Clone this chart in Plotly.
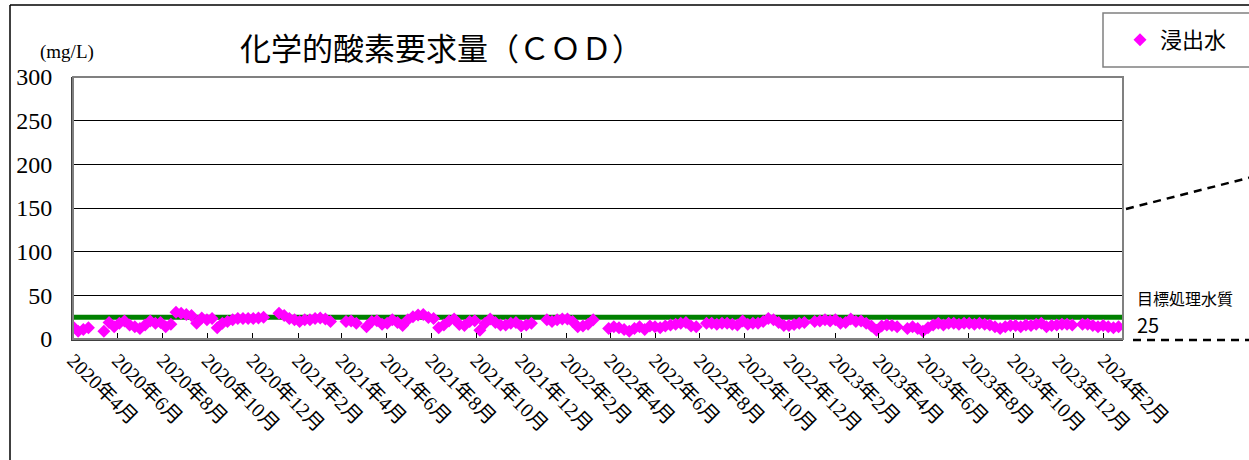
import pandas as pd
import plotly.graph_objects as go

# 浸出水 COD (mg/L), roughly weekly readings from 2020-04-01
start_date = "2020-04-01"
cod_values = [
    14, 9, 11, 13, None, None, 9, 19, 14, 18,
    20.5, 16, 14, 12, 16, 20.5, 18, 19, 14, 17,
    30.5, 29.5, 28, 27, 18, 24, 22, 23.5, 13, 18,
    20, 22, 23.5, 23.5, 23.5, 23.5, 24, 25, None, None,
    29.5, 27, 23.5, 22, 20, 22, 22, 23.5, 24, 23,
    20, None, None, 20, 20.5, 18, None, 14, 20, 21,
    17, 18, 22, 19, 15.5, 22, 25.5, 27.5, 28, 24.5,
    23.5, 13, 16, 20.5, 23, 16.5, 15.5, 20, 21, 10,
    18, 23, 19, 16, 16, 18, 19, 15, 16, 18,
    None, None, 22, 20, 22, 23, 23, 20, 14, 15,
    17, 22, None, None, 12, 14, 13, 11, 9, 12,
    14, 11, 15, 14, 13, 15, 16, 17, 18, 19,
    15, 14, None, 18, 18, 17, 18, 18, 17, 16,
    20.5, 17, 18, 18, 20, 23.5, 22, 19, 15.5, 15.5,
    16.5, 18, 19, None, 20, 20.5, 22, 20.5, 22, 18,
    19, 23, 20, 20.5, 18, 15, 10, 15, 16, 15.5,
    14, None, 12, 14, 12, 9, 13, 16, 18, 16,
    18, 18, 17, 18, 18, 17, 18, 17, 16, 14,
    12, 14, 15.5, 15.5, 14, 16, 15.5, 17, 18, 14,
    15.5, 16, 17, 17, 16, None, 17, 17, 15.5, 14,
    15.5, 14, 13, 14,
]
target_value = 25  # 目標処理水質

tick_dates = [
    "2020-04-01", "2020-06-01", "2020-08-01", "2020-10-01", "2020-12-01",
    "2021-02-01", "2021-04-01", "2021-06-01", "2021-08-01", "2021-10-01",
    "2021-12-01", "2022-02-01", "2022-04-01", "2022-06-01", "2022-08-01",
    "2022-10-01", "2022-12-01", "2023-02-01", "2023-04-01", "2023-06-01",
    "2023-08-01", "2023-10-01", "2023-12-01", "2024-02-01",
]
tick_labels = [
    "2020年4月", "2020年6月", "2020年8月", "2020年10月", "2020年12月",
    "2021年2月", "2021年4月", "2021年6月", "2021年8月", "2021年10月",
    "2021年12月", "2022年2月", "2022年4月", "2022年6月", "2022年8月",
    "2022年10月", "2022年12月", "2023年2月", "2023年4月", "2023年6月",
    "2023年8月", "2023年10月", "2023年12月", "2024年2月",
]
x_end = "2024-02-27"

dates = pd.date_range(start_date, periods=len(cod_values), freq="7D")

W, H = 1249, 460
L, R, T, B = 73, 1123, 77, 339
SERIF = "Liberation Serif, Noto Sans CJK JP, serif"
SANS = "Noto Sans CJK JP, sans-serif"


def px_x(px):
    # screen pixel -> paper x
    return (px - L) / (R - L)


def px_y(py):
    # screen pixel -> paper y
    return (B - py) / (B - T)


fig = go.Figure()

# 目標処理水質のライン
fig.add_trace(go.Scatter(
    x=[start_date, x_end], y=[target_value, target_value],
    mode="lines", line=dict(color="#008000", width=5),
    showlegend=False, hoverinfo="skip",
))

fig.add_trace(go.Scatter(
    x=dates, y=cod_values, mode="markers", name="浸出水",
    marker=dict(symbol="diamond", size=10, color="#FF00FF"),
))

shapes = [
    # plot area border (grey)
    dict(type="rect", xref="paper", yref="paper", x0=0, y0=0, x1=1, y1=1,
         line=dict(color="#808080", width=2)),
    # outer chart frame
    dict(type="line", xref="paper", yref="paper",
         x0=px_x(10), y0=px_y(5), x1=px_x(1260), y1=px_y(5),
         line=dict(color="black", width=1.5)),
    dict(type="line", xref="paper", yref="paper",
         x0=px_x(10), y0=px_y(5), x1=px_x(10), y1=px_y(470),
         line=dict(color="black", width=1.5)),
    # legend box
    dict(type="rect", xref="paper", yref="paper",
         x0=px_x(1103), y0=px_y(13), x1=px_x(1265), y1=px_y(67),
         line=dict(color="#808080", width=1.5), fillcolor="white", layer="below"),
    # dashed guide lines
    dict(type="line", xref="paper", yref="paper",
         x0=px_x(1126), y0=px_y(209), x1=px_x(1252), y1=px_y(177),
         line=dict(color="black", width=2.5, dash="8px,6px")),
    dict(type="line", xref="paper", yref="paper",
         x0=px_x(1133), y0=px_y(340), x1=px_x(1252), y1=px_y(340),
         line=dict(color="black", width=2.5, dash="8px,6px")),
]

annotations = [
    dict(text="化学的酸素要求量（ＣＯＤ）", xref="paper", yref="paper",
         x=px_x(441), y=px_y(47), xanchor="center", yanchor="middle",
         showarrow=False, font=dict(family=SANS, size=31, color="black")),
    dict(text="(mg/L)", xref="paper", yref="paper",
         x=px_x(67), y=px_y(52), xanchor="center", yanchor="middle",
         showarrow=False, font=dict(family=SERIF, size=19, color="black")),
    dict(text="目標処理水質", xref="paper", yref="paper",
         x=px_x(1135), y=px_y(298), xanchor="left", yanchor="middle",
         showarrow=False, font=dict(family=SANS, size=16, color="black")),
    dict(text="25", xref="paper", yref="paper",
         x=px_x(1135), y=px_y(324), xanchor="left", yanchor="middle",
         showarrow=False, font=dict(family=SANS, size=20, color="black")),
]

fig.update_layout(
    width=W, height=H,
    margin=dict(l=L, r=W - R, t=T, b=H - B),
    paper_bgcolor="white", plot_bgcolor="white",
    shapes=shapes, annotations=annotations,
    showlegend=True,
    legend=dict(x=px_x(1120), y=px_y(40), xanchor="left", yanchor="middle",
                bgcolor="rgba(0,0,0,0)", borderwidth=0,
                font=dict(family=SANS, size=22, color="black")),
    xaxis=dict(
        type="date", range=[start_date, x_end],
        tickvals=tick_dates, ticktext=tick_labels, tickangle=45,
        ticks="inside", ticklen=6, tickcolor="black",
        showgrid=False, showline=True, linecolor="#404040", linewidth=2,
        tickfont=dict(family=SERIF, size=20, color="black"),
    ),
    yaxis=dict(
        range=[0, 300], dtick=50, tickmode="linear",
        showgrid=True, gridcolor="black", gridwidth=1,
        showline=True, linecolor="#404040", linewidth=2,
        zeroline=False, ticks="", ticklabelstandoff=14,
        tickfont=dict(family=SERIF, size=24, color="black"),
    ),
)

# drop the default 8px body margin so the figure sits at the page corner
fig.write_html("out.html", config={"displayModeBar": False},
               post_script="document.body.style.margin='0';")
